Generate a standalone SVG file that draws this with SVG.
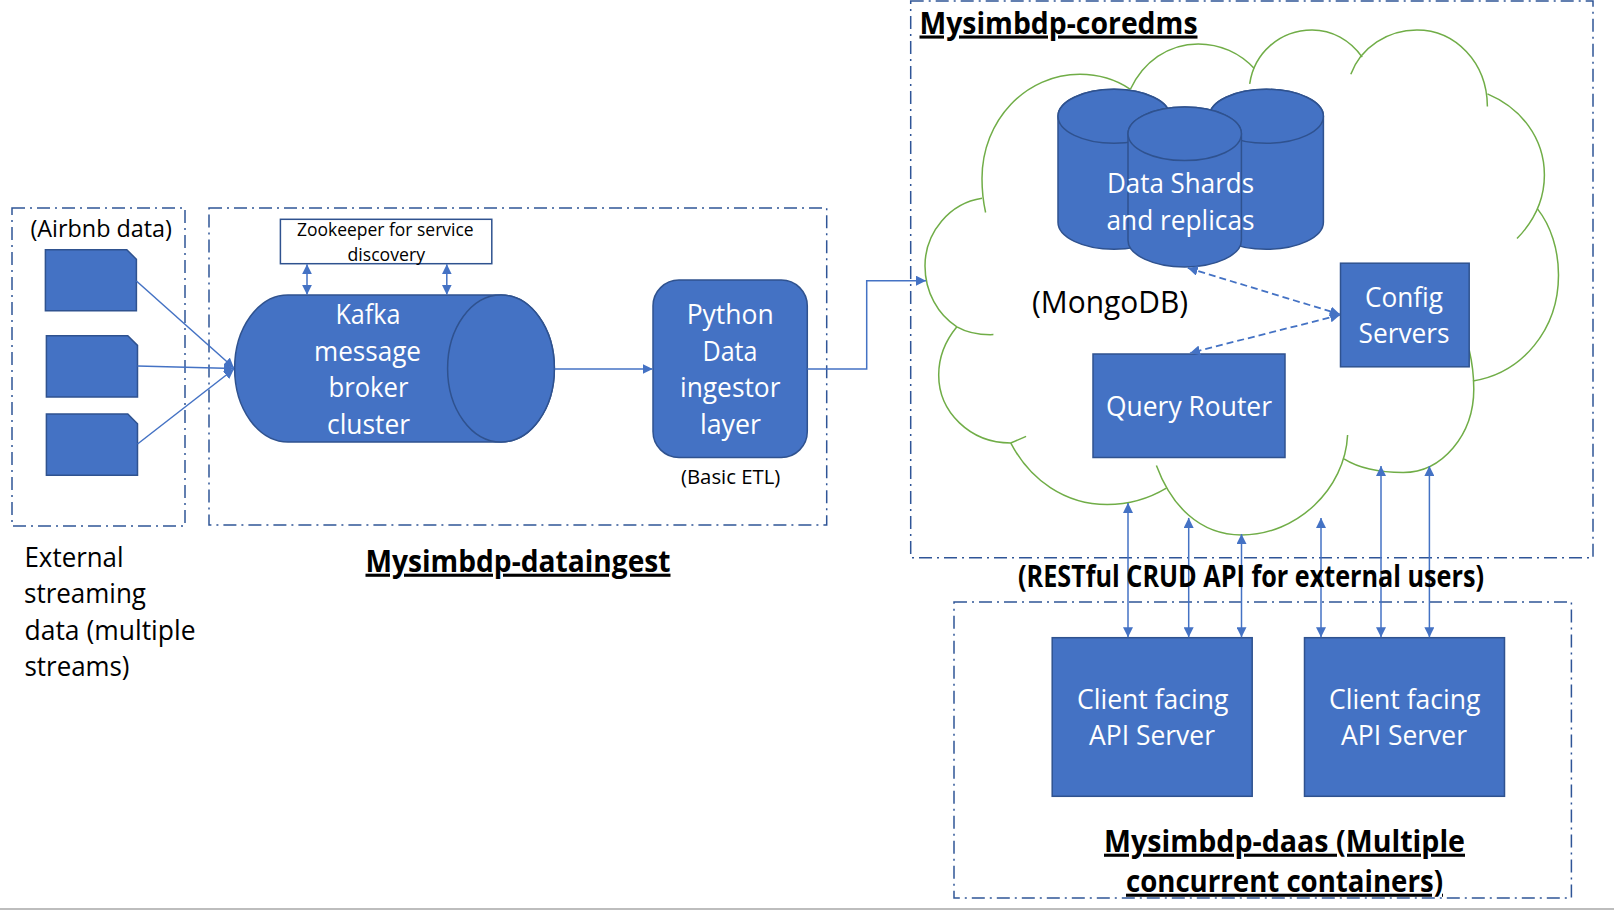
<svg xmlns="http://www.w3.org/2000/svg" width="1614" height="910" viewBox="0 0 1614 910">
<style>
text{font-family:"Open Sans","Noto Sans","Liberation Sans",sans-serif;fill:#000;font-size:27px}
.w{fill:#fff}
.b{font-weight:700;font-size:31px;text-decoration:underline;text-decoration-skip-ink:none}
.rb{font-weight:700;font-size:30px}
.z{font-size:18px}
.s{font-size:20px}
.m{font-size:31px}
.box{fill:none;stroke:#2F5597;stroke-width:1.5;stroke-dasharray:13 5 2 5}
.shape{fill:#4472C4;stroke:#2F528F;stroke-width:1.5}
.hollow{fill:#fff;stroke:#2F528F;stroke-width:1.5}
.cl{fill:none;stroke:#70AD47;stroke-width:1.5}
.c{fill:none;stroke:#4472C4;stroke-width:1.5}
.a{marker-end:url(#ah)}
.d{marker-start:url(#ah);marker-end:url(#ah)}
.dash{stroke-dasharray:7 4;stroke-width:1.8}
</style>
<defs>
<marker id="ah" viewBox="0 0 10 10" refX="10" refY="5" markerWidth="10" markerHeight="10" markerUnits="userSpaceOnUse" orient="auto-start-reverse"><path d="M0 0L10 5L0 10Z" fill="#4472C4"/></marker>
</defs>
<rect x="0" y="908" width="1614" height="2" fill="#BDBDBD"/>
<g id="group-airbnb"><rect class="box" x="12" y="208" width="173" height="318"/>
<text x="30.4" y="236.7" style="font-size:24px" textLength="141.6" lengthAdjust="spacingAndGlyphs">(Airbnb data)</text></g>
<g id="group-dataingest"><rect class="box" x="209" y="208" width="617.7" height="317"/></g>
<g id="group-coredms"><rect class="box" x="910.7" y="1" width="682.3" height="556.7"/></g>
<g id="group-daas"><rect class="box" x="954" y="602" width="617.4" height="296"/></g>
<g id="cloud">
<path class="cl" d="M985.6 212.5C983 201 982 190 982 178.6C982 120 1026 74.3 1079.9 74.3C1098 74.3 1115 79 1130.4 89.3"/>
<path class="cl" d="M1130.4 89.3C1143 62 1168 43.9 1198.3 43.9C1220 43.9 1240 53 1254.3 68.6"/>
<path class="cl" d="M1249.7 83.9C1254 53 1280 30 1312.1 30C1332 30 1350 40 1362.2 57.1"/>
<path class="cl" d="M1350.8 74.3C1361 47 1388 30 1416.9 30C1455 30 1487 62 1487.4 106.4"/>
<path class="cl" d="M1487.4 93.9C1521 108 1544.4 138 1544.4 175C1544.4 199 1534 221 1517 238.6"/>
<path class="cl" d="M1537.5 208.9C1551 226 1558.5 250 1558.5 275C1558.5 330 1522 373 1472.9 381"/>
<path class="cl" d="M1469.2 350C1472 362 1473.8 376 1473.8 389C1473.8 435 1442 472.5 1403.2 472.5C1381 472.5 1360 469 1344 458.9"/>
<path class="cl" d="M1347.6 435C1345 489 1297 535 1241.5 535C1199 535 1171 505 1156.4 465.4"/>
<path class="cl" d="M1166.4 488.2C1150 498 1130 504.6 1107.2 504.6C1065 504.6 1030 480 1010.7 442.9"/>
<path class="cl" d="M1026.1 436.4Q1018 440 1010.7 443C970 443 938.7 412 938.7 375C938.7 356 946 340 956.9 326.8"/>
<path class="cl" d="M993.4 334.6C980 335 966 332 956.9 326.8C938 315 925 292 925 266C925 232 950 203 982 198.2"/>
</g>
<g id="doc-1"><path class="shape" d="M45.4 249.7H126.8L136.4 259.3V310.7H45.4Z"/></g>
<g id="doc-2"><path class="shape" d="M46.4 335.7H127.8L137.5 345.4V397H46.4Z"/></g>
<g id="doc-3"><path class="shape" d="M46.4 414H127.8L137.5 423.7V475.3H46.4Z"/></g>
<g id="zookeeper"><rect class="hollow" x="280.4" y="219.3" width="211.4" height="44.4"/>
<text class="z" x="297" y="236" textLength="176.6" lengthAdjust="spacingAndGlyphs">Zookeeper for service</text>
<text class="z" x="347.5" y="261" textLength="77.5" lengthAdjust="spacingAndGlyphs">discovery</text></g>
<g id="kafka"><path class="shape" d="M288 295H501A53.4 73.5 0 0 1 501 442H288A53.4 73.5 0 0 1 288 295Z"/>
<ellipse class="shape" cx="501" cy="368.5" rx="53.4" ry="73.5"/>
<text class="w" x="335.4" y="323.5" textLength="65" lengthAdjust="spacingAndGlyphs">Kafka</text>
<text class="w" x="314" y="360.7" textLength="107" lengthAdjust="spacingAndGlyphs">message</text>
<text class="w" x="328.5" y="396.7" textLength="80" lengthAdjust="spacingAndGlyphs">broker</text>
<text class="w" x="327" y="434" textLength="83" lengthAdjust="spacingAndGlyphs">cluster</text></g>
<g id="python"><rect class="shape" x="653" y="280" width="154.3" height="177.5" rx="26"/>
<text class="w" x="686.7" y="323.5" textLength="87" lengthAdjust="spacingAndGlyphs">Python</text>
<text class="w" x="702.5" y="360.5" textLength="55" lengthAdjust="spacingAndGlyphs">Data</text>
<text class="w" x="680" y="397" textLength="100.5" lengthAdjust="spacingAndGlyphs">ingestor</text>
<text class="w" x="700" y="433.5" textLength="61" lengthAdjust="spacingAndGlyphs">layer</text></g>
<g id="shards">
<path class="shape" d="M1058 116.3A56 27 0 0 1 1170 116.3V222.3A56 27 0 0 1 1058 222.3Z"/><ellipse class="shape" cx="1114" cy="116.3" rx="56" ry="27"/>
<path class="shape" d="M1209.4 116.3A57 27 0 0 1 1323.4 116.3V222.3A57 27 0 0 1 1209.4 222.3Z"/><ellipse class="shape" cx="1266.4" cy="116.3" rx="57" ry="27"/>
<path class="shape" d="M1128 133.8A56.7 26.8 0 0 1 1241.4 133.8V240.2A56.7 26.8 0 0 1 1128 240.2Z"/><ellipse class="shape" cx="1184.7" cy="133.8" rx="56.7" ry="26.8"/>
<text class="w" x="1107" y="192.9" textLength="147" lengthAdjust="spacingAndGlyphs">Data Shards</text>
<text class="w" x="1106.5" y="229.6" textLength="148" lengthAdjust="spacingAndGlyphs">and replicas</text></g>
<g id="config"><rect class="shape" x="1340.5" y="263.2" width="128.7" height="103.6"/>
<text class="w" x="1365" y="307" textLength="78" lengthAdjust="spacingAndGlyphs">Config</text>
<text class="w" x="1358.5" y="342.9" textLength="91" lengthAdjust="spacingAndGlyphs">Servers</text></g>
<g id="router"><rect class="shape" x="1093" y="354" width="192" height="103.5"/>
<text class="w" x="1106" y="416" textLength="166" lengthAdjust="spacingAndGlyphs">Query Router</text></g>
<g id="client-1"><rect class="shape" x="1052.2" y="637.7" width="200" height="158.6"/>
<text class="w" x="1077" y="708.5" textLength="151.5" lengthAdjust="spacingAndGlyphs">Client facing</text>
<text class="w" x="1089" y="744.5" textLength="126" lengthAdjust="spacingAndGlyphs">API Server</text></g>
<g id="client-2"><rect class="shape" x="1304.5" y="637.7" width="200" height="158.6"/>
<text class="w" x="1329" y="708.5" textLength="151.5" lengthAdjust="spacingAndGlyphs">Client facing</text>
<text class="w" x="1341" y="744.5" textLength="126" lengthAdjust="spacingAndGlyphs">API Server</text></g>
<g id="connectors">
<path class="c a" d="M136.4 281L234 368"/>
<path class="c a" d="M137.5 366L234 368.5"/>
<path class="c a" d="M137.5 444L234 369"/>
<path class="c d" d="M307 264.3V294.7"/>
<path class="c d" d="M446.8 264.3V294.7"/>
<path class="c a" d="M554.6 369H652.7"/>
<path class="c a" d="M807.3 369H866.7V280.7H926"/>
<path class="c d dash" d="M1187.8 267.9L1339.9 314.3"/>
<path class="c d dash" d="M1340 315L1190 352.9"/>
<path class="c d" d="M1128 502.9V637.3"/>
<path class="c d" d="M1188.7 517.9V637.3"/>
<path class="c d" d="M1241.5 534V637.3"/>
<path class="c d" d="M1321 517.9V637.3"/>
<path class="c d" d="M1381 466V637.3"/>
<path class="c d" d="M1429.4 466V637.3"/>
</g>
<g id="labels">
<text x="24.5" y="566.7" textLength="99" lengthAdjust="spacingAndGlyphs">External</text>
<text x="24" y="603" textLength="122" lengthAdjust="spacingAndGlyphs">streaming</text>
<text x="24.5" y="640" textLength="171" lengthAdjust="spacingAndGlyphs">data (multiple</text>
<text x="24.5" y="675.5" textLength="105" lengthAdjust="spacingAndGlyphs">streams)</text>
<text class="b" x="365.5" y="571.7" textLength="305" lengthAdjust="spacingAndGlyphs">Mysimbdp-dataingest</text>
<text class="s" x="681" y="484" textLength="99.3" lengthAdjust="spacingAndGlyphs">(Basic ETL)</text>
<text class="b" x="919.5" y="33.5" textLength="278" lengthAdjust="spacingAndGlyphs">Mysimbdp-coredms</text>
<text class="m" x="1032" y="313" textLength="156" lengthAdjust="spacingAndGlyphs">(MongoDB)</text>
<text class="rb" x="1018" y="587" textLength="466" lengthAdjust="spacingAndGlyphs">(RESTful CRUD API for external users)</text>
<text class="b" x="1104" y="851.7" textLength="361" lengthAdjust="spacingAndGlyphs">Mysimbdp-daas (Multiple</text>
<text class="b" x="1126" y="891.7" textLength="317" lengthAdjust="spacingAndGlyphs">concurrent containers)</text>
</g>
</svg>
